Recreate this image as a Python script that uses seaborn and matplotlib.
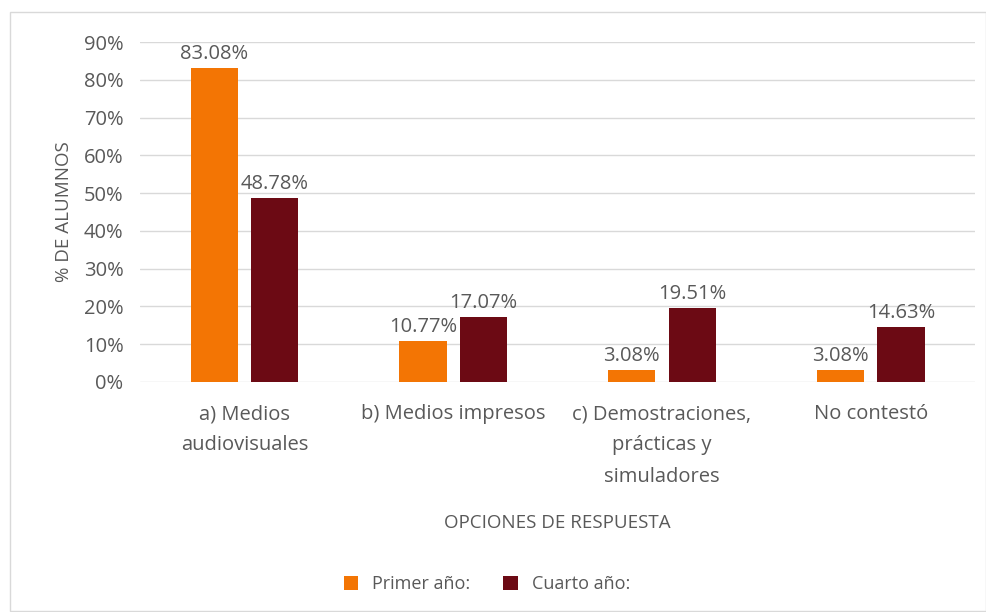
import matplotlib
matplotlib.use("Agg")
import matplotlib.pyplot as plt
import seaborn as sns
import pandas as pd
from matplotlib.patches import Rectangle

categories = ["a) Medios\naudiovisuales", "b) Medios impresos",
              "c) Demostraciones,\nprácticas y\nsimuladores", "No contestó"]
primer = [83.08, 10.77, 3.08, 3.08]
cuarto = [48.78, 17.07, 19.51, 14.63]
series = ["Primer año:", "Cuarto año:"]
yticks = [0, 10, 20, 30, 40, 50, 60, 70, 80, 90]

df = pd.DataFrame({
    "cat": categories * 2,
    "val": primer + cuarto,
    "serie": [series[0]] * 4 + [series[1]] * 4,
})

sns.set_theme(style="white")
plt.rcParams['font.family'] = ['Open Sans', 'DejaVu Sans']
txt = "#595959"
fs = 14.5

fig = plt.figure(figsize=(9.87, 6.12), dpi=100)
ax = fig.add_axes([0.142, 0.376, 0.846, 0.555])
sns.barplot(data=df, x="cat", y="val", hue="serie",
            palette=["#F37504", "#6C0A14"], width=0.58, gap=0.22,
            saturation=1, ax=ax, legend=True, linewidth=0)

ax.set_ylim(0, 90)
ax.set_yticks(yticks)
ax.set_yticklabels([f"{v}%" for v in yticks], color=txt, fontsize=fs)
ax.tick_params(axis="x", colors=txt, labelsize=fs, length=0, pad=16)
ax.tick_params(axis="y", length=0, pad=12)
for lab in ax.get_xticklabels():
    lab.set_linespacing(1.75)
ax.yaxis.grid(True, color="#D9D9D9", linewidth=1)
ax.set_axisbelow(True)
for s in ax.spines.values():
    s.set_visible(False)
ax.set_xlim(-0.5, 3.5)

for cont in ax.containers:
    ax.bar_label(cont, labels=[f"{v:.2f}%" for v in cont.datavalues],
                 color=txt, fontsize=fs, padding=3)

ax.set_xlabel("OPCIONES DE RESPUESTA", color=txt, fontsize=13.5, labelpad=20)
ax.set_ylabel("% DE ALUMNOS", color=txt, fontsize=13.5, labelpad=8)

leg = ax.legend(loc="center", bbox_to_anchor=(0.5 + (487/987 - 0.565) / 0.846, -0.595),
                ncol=2, frameon=False, fontsize=13, handlelength=0.8,
                handleheight=0.8, columnspacing=1.8, handletextpad=0.8)
for t in leg.get_texts():
    t.set_color(txt)

fig.patches.append(Rectangle((10/987, 1 - 611/612), 976/987, 599/612,
                             transform=fig.transFigure, fill=False,
                             edgecolor="#D9D9D9", linewidth=1))

fig.savefig("out.png", dpi=100)
